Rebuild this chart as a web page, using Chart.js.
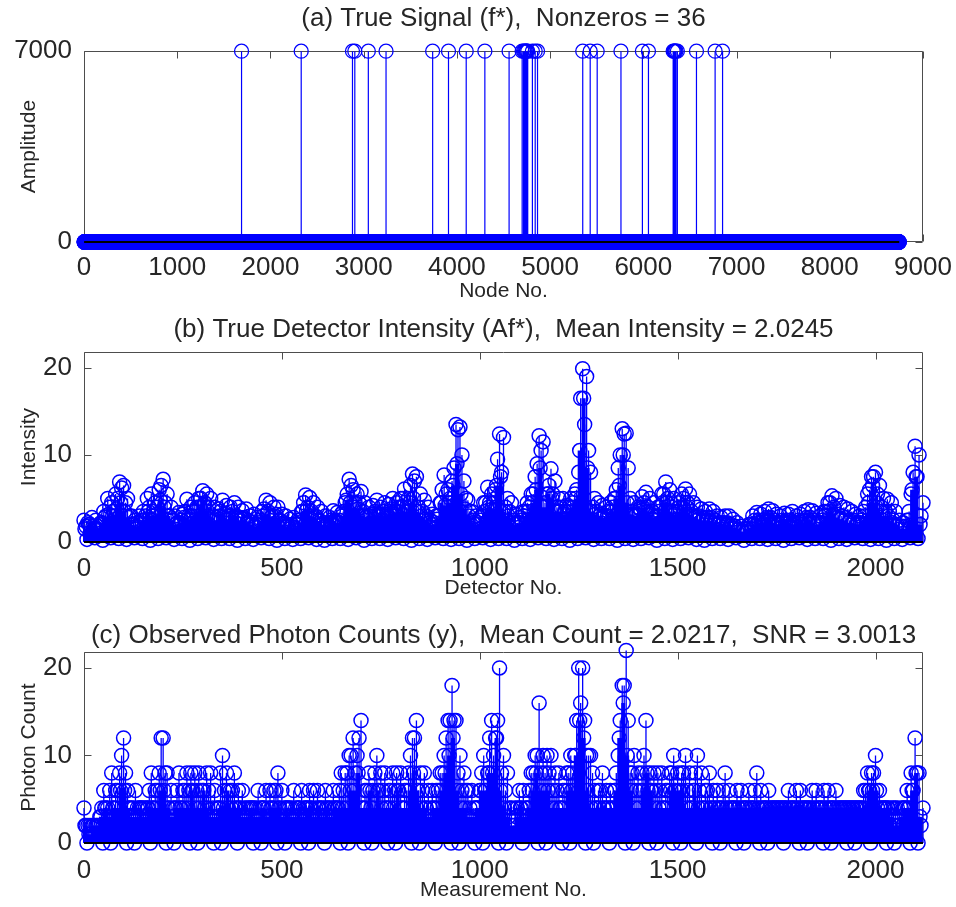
<!DOCTYPE html>
<html lang="en">
  <head>
    <meta charset="UTF-8" />
    <title>Signal, detector intensity and photon counts</title>
    <script src="https://cdn.jsdelivr.net/npm/chart.js@4.4.1/dist/chart.umd.min.js"></script>
    <style>
      body {
        margin: 0;
        background-color: #ffffff;
      }

      .panel {
        position: absolute;
        left: 0;
        width: 956px;
      }
    </style>
  </head>
  <body>
    <div class="panel" style="top: 0; height: 310px">
      <canvas id="signalChart" width="956" height="310"></canvas>
    </div>
    <div class="panel" style="top: 310px; height: 300px">
      <canvas id="intensityChart" width="956" height="300"></canvas>
    </div>
    <div class="panel" style="top: 610px; height: 297px">
      <canvas id="countChart" width="956" height="297"></canvas>
    </div>

    <script>
      const FONT = "'Liberation Sans', Arial, sans-serif";
      const TEXT = "#262626";
      const BLUE = "#0000ff";

      // tick values
      const nodeTicks = [0, 1000, 2000, 3000, 4000, 5000, 6000, 7000, 8000, 9000];
      const detectorTicks = [0, 500, 1000, 1500, 2000];
      const amplitudeTicks = [0, 7000];
      const levelTicks = [0, 10, 20];

      // (a) true signal: 36 nonzero nodes out of nodeCount, all others are 0
      const nodeCount = 8745;
      const nonzeroNodes = [
        1690, 2330, 2880, 2905, 3050, 3240, 3740, 3910, 4100, 4300, 4560, 4700,
        4715, 4725, 4735, 4745, 4750, 4760, 4810, 4840, 4865, 5350, 5430, 5505,
        5760, 5990, 6055, 6320, 6330, 6335, 6340, 6350, 6365, 6570, 6770, 6850,
      ];
      const nonzeroAmp = [
        7000, 7000, 7000, 7000, 7000, 7000, 7000, 7000, 7000, 7000, 7000, 7000,
        7000, 7000, 7000, 7000, 7000, 7000, 7000, 7000, 7000, 7000, 7000, 7000,
        7000, 7000, 7000, 7000, 7000, 7000, 7000, 7000, 7000, 7000, 7000, 7000,
      ];

      // (b) detector intensity
      const detectorCount = 2120;
      // tallest value every 10 detectors (0, 10, 20 ...)
      const intensityPeak = [
        2.5, 2.2, 2.8, 2.5, 2.0, 3.5, 5.0, 4.5, 5.5, 6.9,
        6.5, 5.0, 3.0, 2.5, 3.0, 3.5, 5.0, 5.5, 4.5, 6.0,
        7.2, 5.5, 4.0, 3.0, 3.4, 3.2, 4.9, 4.0, 4.5, 5.0,
        5.9, 5.5, 5.0, 4.0, 3.8, 4.8, 4.2, 4.0, 4.5, 4.0,
        3.6, 3.8, 3.0, 3.2, 2.8, 3.5, 4.8, 4.5, 4.0, 4.0,
        3.2, 3.0, 2.6, 2.8, 2.5, 3.5, 5.4, 5.1, 4.5, 4.0,
        3.5, 3.0, 2.8, 3.6, 3.4, 3.2, 4.5, 7.2, 6.0, 5.5,
        5.8, 4.5, 4.0, 4.2, 4.8, 4.0, 4.5, 4.3, 5.0, 4.5,
        5.0, 6.1, 5.0, 7.8, 7.5, 5.5, 4.8, 4.0, 3.2, 3.0,
        4.5, 7.7, 6.0, 7.0, 13.5, 13.2, 7.0, 4.8, 3.5, 3.0,
        2.8, 4.5, 6.3, 5.5, 6.0, 12.4, 12.0, 5.0, 4.5, 3.2,
        2.8, 3.5, 4.5, 5.5, 7.5, 12.2, 11.5, 5.5, 8.4, 7.0,
        5.0, 5.0, 4.2, 5.0, 5.5, 8.0, 19.9, 19.0, 8.0, 5.0,
        4.5, 4.2, 4.0, 4.5, 5.0, 8.5, 13.0, 12.5, 5.0, 4.5,
        4.0, 5.2, 5.7, 5.0, 4.5, 4.0, 5.5, 6.9, 6.0, 5.0,
        4.5, 5.5, 6.1, 5.5, 4.5, 4.0, 3.8, 3.5, 3.8, 3.5,
        3.0, 2.8, 3.0, 3.0, 2.6, 2.2, 1.8, 1.5, 2.0, 3.0,
        3.4, 3.2, 3.5, 3.8, 3.6, 3.2, 3.0, 3.3, 3.2, 3.5,
        3.0, 3.2, 3.5, 3.7, 3.6, 3.3, 3.0, 3.5, 4.5, 5.3,
        5.0, 4.2, 4.0, 3.8, 3.5, 3.2, 3.0, 3.5, 5.5, 7.5,
        8.0, 6.5, 5.0, 4.9, 4.5, 3.5, 2.5, 2.2, 2.5, 5.5,
        11.0, 10.0, 4.5,
      ];
      // second value every 10 detectors (5, 15, 25 ...)
      const intensityMid = [
        1.8, 2.0, 1.5, 1.8, 2.2, 3.0, 4.0, 3.5, 5.0, 6.2,
        4.5, 3.0, 2.0, 2.2, 2.5, 3.0, 4.0, 3.5, 4.0, 6.5,
        4.5, 3.0, 2.5, 2.2, 2.5, 3.5, 3.0, 3.5, 4.0, 5.0,
        4.5, 4.0, 3.0, 2.8, 3.5, 3.2, 3.0, 3.5, 3.0, 2.8,
        2.8, 2.5, 2.2, 2.0, 2.5, 3.8, 3.5, 3.0, 3.2, 2.5,
        2.2, 2.0, 2.0, 2.0, 2.5, 4.5, 4.0, 3.5, 3.0, 2.5,
        2.2, 2.0, 2.5, 2.5, 2.5, 3.5, 5.5, 6.5, 4.5, 4.5,
        3.5, 3.0, 3.2, 3.5, 3.2, 3.5, 3.2, 3.8, 3.5, 4.0,
        5.0, 4.0, 6.5, 7.0, 4.0, 3.5, 3.0, 2.5, 2.2, 3.0,
        6.0, 5.5, 5.0, 8.5, 12.9, 10.0, 5.0, 3.5, 2.5, 2.2,
        3.0, 4.5, 4.5, 4.5, 9.5, 8.0, 4.0, 3.5, 2.5, 2.2,
        2.5, 3.5, 4.0, 5.5, 9.0, 10.5, 4.5, 6.5, 5.5, 4.0,
        4.0, 3.5, 4.0, 4.5, 6.0, 16.5, 13.5, 10.5, 4.0, 3.5,
        3.2, 3.0, 3.5, 4.0, 6.0, 10.0, 12.4, 8.5, 3.5, 3.2,
        3.8, 4.5, 4.0, 3.5, 3.0, 4.0, 5.5, 5.0, 4.0, 3.5,
        4.0, 5.0, 4.5, 3.5, 3.0, 3.0, 2.8, 2.8, 2.8, 2.5,
        2.2, 2.2, 2.2, 2.0, 1.8, 1.5, 1.2, 1.5, 2.0, 2.5,
        2.5, 2.5, 2.8, 2.8, 2.5, 2.2, 2.5, 2.5, 2.5, 2.2,
        2.5, 2.5, 2.8, 2.8, 2.5, 2.2, 2.5, 3.5, 4.5, 4.0,
        3.2, 3.0, 2.8, 2.5, 2.5, 2.2, 2.5, 4.0, 6.0, 7.5,
        5.5, 4.0, 3.5, 3.5, 2.5, 2.0, 1.8, 1.8, 3.5, 8.0,
        7.5, 3.0,
      ];
      // dense band under the peaks (2.5, 12.5, 22.5 ...)
      const intensityFill = [
        1.5, 2.0, 1.8, 1.5, 2.2, 2.8, 3.2, 3.0, 3.8, 4.5,
        3.5, 2.8, 2.0, 1.8, 2.2, 2.5, 3.5, 3.0, 3.2, 4.8,
        4.0, 3.0, 2.5, 2.0, 2.2, 2.8, 2.6, 3.0, 3.5, 4.0,
        4.2, 3.5, 2.8, 2.5, 3.0, 2.8, 2.6, 3.0, 2.8, 2.5,
        2.6, 2.2, 2.0, 1.8, 2.2, 3.0, 3.2, 2.8, 3.0, 2.4,
        2.0, 1.8, 1.8, 1.7, 2.2, 3.5, 3.6, 3.0, 2.8, 2.4,
        2.0, 1.9, 2.2, 2.4, 2.2, 3.0, 4.8, 4.5, 4.0, 3.8,
        3.0, 2.8, 3.0, 3.2, 3.0, 3.2, 3.0, 3.5, 3.2, 3.5,
        4.0, 3.5, 4.5, 5.0, 3.5, 3.0, 2.6, 2.2, 2.0, 2.6,
        4.5, 4.2, 4.5, 6.5, 9.0, 5.5, 3.8, 3.0, 2.2, 2.0,
        2.5, 3.5, 4.0, 3.8, 6.5, 7.5, 3.5, 3.0, 2.2, 2.0,
        2.2, 3.0, 3.5, 4.5, 6.0, 8.5, 4.0, 5.5, 5.0, 3.5,
        3.5, 3.2, 3.5, 4.0, 5.0, 10.5, 16.5, 8.5, 3.5, 3.2,
        3.0, 2.8, 3.0, 3.5, 5.0, 6.5, 10.0, 4.5, 3.2, 3.0,
        3.5, 4.0, 3.5, 3.2, 2.8, 3.5, 4.5, 4.5, 3.5, 3.2,
        3.5, 4.0, 4.0, 3.2, 2.8, 2.6, 2.5, 2.5, 2.4, 2.2,
        2.0, 2.0, 2.0, 1.8, 1.6, 1.4, 1.2, 1.2, 1.6, 2.0,
        2.2, 2.2, 2.4, 2.5, 2.2, 2.0, 2.2, 2.2, 2.2, 2.0,
        2.2, 2.2, 2.4, 2.5, 2.2, 2.0, 2.2, 3.0, 3.5, 3.2,
        2.8, 2.6, 2.5, 2.2, 2.2, 2.0, 2.2, 3.0, 4.5, 6.5,
        4.5, 3.5, 3.0, 3.0, 2.2, 1.8, 1.5, 1.5, 2.5, 6.0,
        7.5, 2.0,
      ];
      // lowest values along the axis, every 20 detectors (7.5, 27.5 ...)
      const intensityBase = [
        0.3, 0.5, 0.2, 0.5, 0.4, 0.3, 0.5, 0.4, 0.2, 0.4,
        0.5, 0.3, 0.4, 0.2, 0.4, 0.5, 0.3, 0.4, 0.4, 0.2,
        0.4, 0.3, 0.5, 0.4, 0.2, 0.4, 0.3, 0.4, 0.5, 0.3,
        0.2, 0.4, 0.4, 0.3, 0.5, 0.2, 0.4, 0.4, 0.3, 0.5,
        0.4, 0.2, 0.4, 0.3, 0.5, 0.4, 0.3, 0.4, 0.2, 0.4,
        0.5, 0.3, 0.4, 0.4, 0.2, 0.4, 0.3, 0.5, 0.4, 0.3,
        0.4, 0.2, 0.4, 0.5, 0.3, 0.4, 0.4, 0.2, 0.4, 0.3,
        0.4, 0.5, 0.2, 0.4, 0.3, 0.4, 0.5, 0.3, 0.2, 0.4,
        0.4, 0.3, 0.5, 0.2, 0.4, 0.4, 0.3, 0.4, 0.2, 0.4,
        0.5, 0.3, 0.4, 0.4, 0.2, 0.4, 0.3, 0.5, 0.4, 0.3,
        0.4, 0.2, 0.4, 0.3, 0.5, 0.4,
      ];

      // (c) observed photon counts
      const countPeak = [
        4, 2, 2, 2, 3, 6, 4, 8, 6, 8,
        12, 6, 4, 6, 4, 4, 4, 8, 6, 8,
        12, 8, 6, 4, 8, 6, 8, 8, 8, 8,
        6, 8, 8, 6, 4, 10, 8, 6, 8, 6,
        6, 4, 4, 4, 6, 4, 6, 6, 6, 8,
        6, 4, 4, 6, 4, 6, 4, 6, 6, 6,
        4, 6, 4, 6, 4, 8, 8, 10, 12, 10,
        14, 6, 8, 6, 10, 8, 8, 6, 8, 8,
        8, 6, 8, 12, 14, 8, 8, 6, 6, 6,
        8, 10, 14, 18, 14, 10, 8, 6, 6, 4,
        6, 10, 8, 14, 12, 20, 10, 8, 4, 4,
        6, 6, 4, 8, 10, 16, 10, 10, 10, 8,
        8, 6, 8, 10, 10, 20, 20, 10, 10, 6,
        6, 8, 6, 6, 6, 10, 18, 22, 8, 10,
        8, 8, 14, 8, 8, 8, 8, 6, 8, 10,
        8, 8, 10, 8, 6, 10, 8, 6, 8, 6,
        6, 4, 8, 6, 4, 6, 6, 4, 6, 4,
        8, 6, 4, 6, 4, 4, 4, 4, 6, 4,
        6, 6, 4, 4, 6, 6, 4, 6, 6, 4,
        6, 4, 4, 4, 4, 4, 4, 6, 8, 8,
        10, 6, 4, 4, 4, 4, 2, 4, 6, 8,
        12, 8, 4,
      ];
      const countMid = [
        2, 2, 2, 2, 4, 4, 6, 4, 6, 10,
        8, 4, 4, 4, 4, 4, 6, 4, 6, 12,
        8, 4, 4, 6, 4, 6, 6, 6, 6, 6,
        4, 6, 4, 4, 8, 6, 4, 6, 4, 4,
        4, 4, 4, 4, 4, 4, 4, 4, 6, 4,
        4, 4, 4, 4, 4, 4, 4, 4, 4, 4,
        4, 4, 4, 4, 6, 6, 8, 10, 8, 12,
        4, 6, 4, 8, 6, 6, 4, 6, 6, 6,
        4, 6, 10, 12, 6, 6, 4, 4, 4, 6,
        8, 12, 14, 14, 8, 6, 6, 4, 4, 4,
        8, 6, 12, 10, 14, 8, 6, 4, 2, 4,
        4, 4, 6, 8, 10, 8, 8, 8, 6, 6,
        4, 6, 8, 8, 14, 16, 14, 10, 8, 4,
        6, 4, 4, 4, 8, 14, 18, 14, 8, 6,
        6, 10, 6, 6, 6, 6, 4, 6, 8, 6,
        6, 8, 6, 4, 8, 6, 4, 6, 4, 4,
        4, 6, 4, 4, 4, 4, 4, 4, 4, 6,
        4, 4, 4, 4, 4, 4, 4, 4, 4, 4,
        4, 4, 4, 4, 4, 4, 4, 4, 4, 4,
        4, 4, 4, 4, 4, 4, 4, 6, 6, 8,
        4, 4, 4, 2, 4, 4, 4, 4, 4, 6,
        8, 2,
      ];
      const countFill = [
        2, 1, 2, 2, 3, 4, 3, 4, 4, 6,
        6, 4, 3, 3, 4, 3, 4, 4, 4, 6,
        6, 4, 3, 4, 4, 4, 4, 6, 4, 4,
        6, 4, 3, 3, 4, 4, 6, 4, 4, 4,
        3, 3, 4, 3, 3, 4, 3, 4, 4, 4,
        3, 4, 3, 3, 4, 3, 4, 4, 3, 4,
        3, 4, 3, 4, 4, 4, 4, 6, 6, 8,
        4, 4, 6, 4, 6, 4, 4, 4, 4, 6,
        4, 4, 6, 8, 6, 4, 4, 3, 4, 4,
        6, 8, 10, 12, 6, 4, 4, 3, 3, 4,
        6, 6, 8, 8, 12, 6, 4, 3, 2, 3,
        4, 3, 4, 6, 8, 6, 6, 6, 4, 4,
        4, 4, 6, 6, 10, 14, 12, 6, 4, 4,
        4, 4, 4, 4, 6, 12, 16, 10, 6, 4,
        4, 6, 8, 6, 4, 4, 4, 4, 6, 6,
        6, 6, 4, 4, 6, 4, 4, 4, 4, 4,
        4, 4, 4, 4, 4, 4, 4, 4, 4, 4,
        4, 4, 4, 4, 4, 4, 4, 4, 4, 4,
        4, 4, 4, 4, 4, 4, 4, 4, 4, 4,
        4, 4, 4, 4, 4, 4, 4, 4, 6, 6,
        6, 4, 4, 4, 3, 2, 3, 4, 4, 6,
        8, 3,
      ];
      const countBase = [
        0, 1, 0, 0, 1, 0, 0, 1, 0, 1,
        0, 0, 1, 0, 0, 1, 0, 0, 1, 0,
        1, 0, 0, 1, 0, 0, 1, 0, 0, 1,
        0, 1, 0, 0, 1, 0, 0, 1, 0, 0,
        1, 0, 0, 1, 0, 1, 0, 0, 1, 0,
        0, 1, 0, 0, 1, 0, 1, 0, 0, 1,
        0, 0, 1, 0, 0, 1, 0, 1, 0, 0,
        1, 0, 0, 1, 0, 0, 1, 0, 1, 0,
        0, 1, 0, 0, 1, 0, 0, 1, 0, 1,
        0, 0, 1, 0, 0, 1, 0, 0, 1, 0,
        1, 0, 0, 1, 0, 0,
      ];

      function toPoints(values, start, step) {
        return values.map((v, i) => ({ x: start + i * step, y: v }));
      }

      // vertical stems from 0 to each value, gaps between them
      function toStems(points) {
        const out = [];
        points.forEach((p) => {
          if (p.y !== 0) {
            out.push({ x: p.x, y: 0 }, { x: p.x, y: p.y }, { x: p.x, y: null });
          }
        });
        return out;
      }

      function markerSet(points, width) {
        return {
          data: points,
          showLine: false,
          pointRadius: 7,
          pointHoverRadius: 7,
          pointBorderWidth: width,
          pointBorderColor: BLUE,
          pointBackgroundColor: "rgba(0,0,0,0)",
          clip: false,
          order: 2,
        };
      }

      function stemSet(points, width) {
        return {
          data: toStems(points),
          showLine: true,
          spanGaps: false,
          pointRadius: 0,
          borderColor: BLUE,
          borderWidth: width,
          borderCapStyle: "butt",
          clip: false,
          order: 3,
        };
      }

      function baselineSet(first, last) {
        return {
          data: [
            { x: first, y: 0 },
            { x: last, y: 0 },
          ],
          showLine: true,
          pointRadius: 0,
          borderColor: "#000000",
          borderWidth: 2,
          clip: false,
          order: 0,
        };
      }

      // MATLAB-like box with inward ticks on all four sides
      const boxPlugin = {
        id: "boxPlugin",
        beforeDatasetsDraw(chart) {
          const { ctx, chartArea: a, scales } = chart;
          const left = Math.round(a.left) + 0.5;
          const right = Math.round(a.right) - 0.5;
          const top = Math.round(a.top) + 0.5;
          const bottom = Math.round(a.bottom) - 0.5;
          ctx.save();
          ctx.strokeStyle = "#4d4d4d";
          ctx.lineWidth = 1;
          ctx.beginPath();
          ctx.rect(left, top, right - left, bottom - top);
          scales.x.ticks.forEach((t) => {
            const px = Math.round(scales.x.getPixelForValue(t.value)) + 0.5;
            ctx.moveTo(px, bottom);
            ctx.lineTo(px, bottom - 7);
            ctx.moveTo(px, top);
            ctx.lineTo(px, top + 7);
          });
          scales.y.ticks.forEach((t) => {
            const py = Math.round(scales.y.getPixelForValue(t.value)) + 0.5;
            ctx.moveTo(left, py);
            ctx.lineTo(left + 7, py);
            ctx.moveTo(right, py);
            ctx.lineTo(right - 7, py);
          });
          ctx.stroke();
          ctx.restore();
        },
      };

      function makeChart(id, cfg) {
        return new Chart(document.getElementById(id), {
          type: "scatter",
          data: { datasets: cfg.datasets },
          options: {
            responsive: false,
            animation: false,
            events: [],
            devicePixelRatio: 1,
            layout: { padding: { left: 0, right: 33, top: 0, bottom: 0 } },
            plugins: {
              legend: { display: false },
              tooltip: { enabled: false },
              title: {
                display: true,
                text: cfg.title,
                fullSize: false,
                color: TEXT,
                font: { family: FONT, size: 26, weight: "normal", lineHeight: 1.2 },
                padding: { top: cfg.titlePad[0], bottom: cfg.titlePad[1] },
              },
            },
            scales: {
              x: {
                type: "linear",
                min: 0,
                max: cfg.xMax,
                grid: { display: false, drawTicks: false },
                border: { display: false },
                afterBuildTicks(s) {
                  s.ticks = cfg.xTicks.map((v) => ({ value: v }));
                },
                ticks: {
                  autoSkip: false,
                  maxRotation: 0,
                  padding: cfg.xTickPad,
                  color: TEXT,
                  font: { family: FONT, size: 26 },
                  callback: (v) => String(v),
                },
                title: {
                  display: true,
                  text: cfg.xLabel,
                  color: TEXT,
                  font: { family: FONT, size: 21 },
                  padding: { top: 0, bottom: cfg.xTitlePad },
                },
                afterFit(s) {
                  s.height = cfg.xHeight;
                  s.paddingLeft = 0;
                  s.paddingRight = 0;
                },
              },
              y: {
                type: "linear",
                min: 0,
                max: cfg.yMax,
                grid: { display: false, drawTicks: false },
                border: { display: false },
                afterBuildTicks(s) {
                  s.ticks = cfg.yTicks.map((v) => ({ value: v }));
                },
                ticks: {
                  autoSkip: false,
                  padding: 12,
                  color: TEXT,
                  font: { family: FONT, size: 26 },
                  callback: (v) => String(v),
                },
                title: {
                  display: true,
                  text: cfg.yLabel,
                  color: TEXT,
                  font: { family: FONT, size: 21 },
                  padding: { top: 17, bottom: 0 },
                },
                afterFit(s) {
                  s.width = 84;
                  s.paddingTop = 0;
                  s.paddingBottom = 0;
                },
              },
            },
          },
          plugins: [boxPlugin],
        });
      }

      // (a)
      const signal = new Array(nodeCount).fill(0);
      nonzeroNodes.forEach((n, i) => {
        signal[n - 1] = nonzeroAmp[i];
      });
      const signalPoints = toPoints(signal, 1, 1);

      makeChart("signalChart", {
        title: "(a) True Signal (f*),  Nonzeros = 36",
        titlePad: [3, 17],
        xMax: 9000,
        xTicks: nodeTicks,
        xTickPad: 10,
        xHeight: 68,
        xLabel: "Node No.",
        xTitlePad: 6,
        yMax: 7000,
        yTicks: amplitudeTicks,
        yLabel: "Amplitude",
        datasets: [
          baselineSet(1, nodeCount),
          markerSet(signalPoints, 1.3),
          stemSet(signalPoints, 1.2),
        ],
      });

      // (b)
      const bPeak = toPoints(intensityPeak, 0, 10);
      const bMid = toPoints(intensityMid, 5, 10);
      const bFill = toPoints(intensityFill, 2.5, 10);
      const bBase = toPoints(intensityBase, 7.5, 20);

      makeChart("intensityChart", {
        title: "(b) True Detector Intensity (Af*),  Mean Intensity = 2.0245",
        titlePad: [4, 7],
        xMax: detectorCount,
        xTicks: detectorTicks,
        xTickPad: 11,
        xHeight: 68,
        xLabel: "Detector No.",
        xTitlePad: 9,
        yMax: 21.8,
        yTicks: levelTicks,
        yLabel: "Intensity",
        datasets: [
          baselineSet(0, detectorCount),
          markerSet(bPeak, 1.5),
          markerSet(bMid, 1.5),
          markerSet(bFill, 1.5),
          markerSet(bBase, 1.5),
          stemSet(bPeak, 1.3),
          stemSet(bMid, 1.3),
          stemSet(bFill, 4),
          stemSet(bBase, 1.3),
        ],
      });

      // (c)
      const cPeak = toPoints(countPeak, 0, 10);
      const cMid = toPoints(countMid, 5, 10);
      const cFill = toPoints(countFill, 2.5, 10);
      const cBase = toPoints(countBase, 7.5, 20);

      makeChart("countChart", {
        title: "(c) Observed Photon Counts (y),  Mean Count = 2.0217,  SNR = 3.0013",
        titlePad: [10, 1],
        xMax: detectorCount,
        xTicks: detectorTicks,
        xTickPad: 12,
        xHeight: 64,
        xLabel: "Measurement No.",
        xTitlePad: 4,
        yMax: 21.8,
        yTicks: levelTicks,
        yLabel: "Photon Count",
        datasets: [
          baselineSet(0, detectorCount),
          markerSet(cPeak, 1.5),
          markerSet(cMid, 1.5),
          markerSet(cFill, 1.5),
          markerSet(cBase, 1.5),
          stemSet(cPeak, 1.3),
          stemSet(cMid, 1.3),
          stemSet(cFill, 4),
          stemSet(cBase, 1.3),
        ],
      });
    </script>
  </body>
</html>
